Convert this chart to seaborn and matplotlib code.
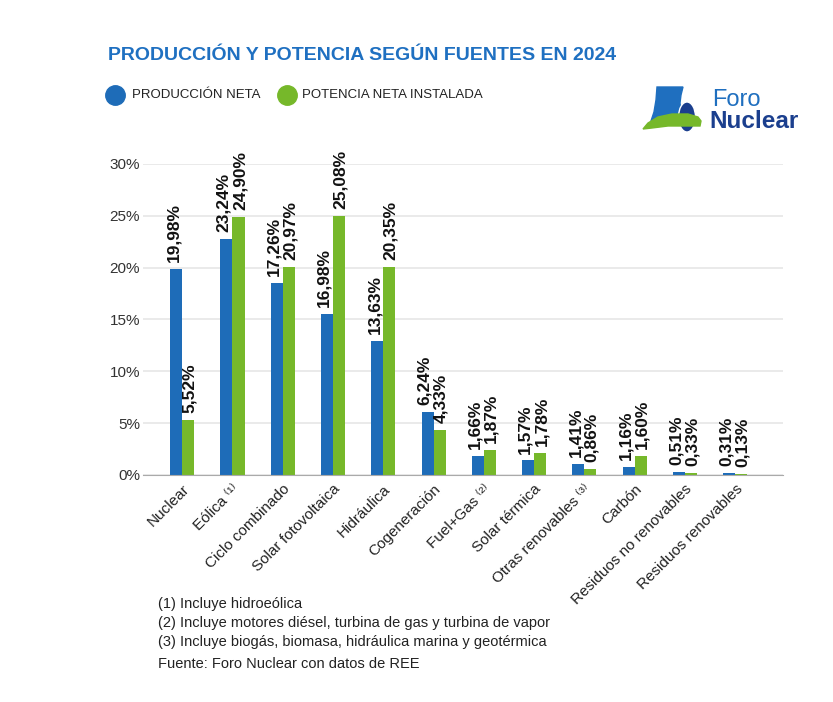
import numpy as np
import pandas as pd
import matplotlib
matplotlib.use("Agg")
import matplotlib.pyplot as plt
import seaborn as sns
from matplotlib.lines import Line2D
from matplotlib.patches import Polygon, Ellipse

# data
fuentes = ["Nuclear", "Eólica ⁽¹⁾", "Ciclo combinado", "Solar fotovoltaica", "Hidráulica",
           "Cogeneración", "Fuel+Gas ⁽²⁾", "Solar térmica", "Otras renovables ⁽³⁾", "Carbón",
           "Residuos no renovables", "Residuos renovables"]
produccion = [19.9, 22.75, 18.5, 15.5, 12.9, 6.1, 1.85, 1.4, 1.1, 0.8, 0.3, 0.2]
potencia = [5.3, 24.9, 20.1, 25.0, 20.1, 4.3, 2.4, 2.1, 0.6, 1.85, 0.2, 0.07]
etiq_produccion = ["19,98%", "23,24%", "17,26%", "16,98%", "13,63%", "6,24%",
                   "1,66%", "1,57%", "1,41%", "1,16%", "0,51%", "0,31%"]
etiq_potencia = ["5,52%", "24,90%", "20,97%", "25,08%", "20,35%", "4,33%",
                 "1,87%", "1,78%", "0,86%", "1,60%", "0,33%", "0,13%"]
series = ["PRODUCCIÓN NETA", "POTENCIA NETA INSTALADA"]
yticks = [0, 5, 10, 15, 20, 25, 30]

azul = "#1e6cb8"
verde = "#76b82a"
azul_titulo = "#1f70c1"
navy = "#1b3f8e"

sns.set_style("white")
plt.rcParams['font.family'] = ['Liberation Sans', 'DejaVu Sans']

df = pd.DataFrame({
    "fuente": fuentes * 2,
    "serie": [series[0]] * len(fuentes) + [series[1]] * len(fuentes),
    "valor": produccion + potencia,
})

W, H = 833, 702
fig = plt.figure(figsize=(W / 100, H / 100), dpi=100)
ax = fig.add_axes([143 / W, 1 - 475 / H, 640 / W, (475 - 164) / H])

sns.barplot(data=df, x="fuente", y="valor", hue="serie", palette=[azul, verde],
            width=0.48, gap=0, saturation=1, legend=False, linewidth=0, ax=ax)

ax.set_ylim(0, 30)
ax.set_xlim(-0.78, 11.95)
ax.set_yticks(yticks)
ax.set_yticklabels([f"{t}%" for t in yticks], fontsize=11, color="#333333")
ax.set_xlabel("")
ax.set_ylabel("")
ax.yaxis.grid(True, color="#e6e6e6", linewidth=1.2)
ax.set_axisbelow(True)
for s in ["top", "right", "left"]:
    ax.spines[s].set_visible(False)
ax.spines["bottom"].set_color("#aaaaaa")
ax.tick_params(axis="y", length=0, pad=2)
ax.tick_params(axis="x", length=0, pad=5)
ax.set_xticks(range(len(fuentes)))
ax.set_xticklabels(fuentes, rotation=45, ha="right", rotation_mode="anchor",
                   fontsize=11, color="#222222")

for cont, etiq, dx in zip(ax.containers, [etiq_produccion, etiq_potencia], [-2, 1]):
    for bar, t in zip(cont, etiq):
        ax.annotate(t, (bar.get_x() + bar.get_width() / 2, bar.get_height()),
                    xytext=(dx, 5), textcoords="offset points", rotation=90,
                    ha="center", va="bottom", fontsize=12.5, fontweight="bold",
                    color="#111111", annotation_clip=False)

# title and legend
fig.text(108 / W, 1 - 55 / H, "PRODUCCIÓN Y POTENCIA SEGÚN FUENTES EN 2024",
         fontsize=14, fontweight="bold", color=azul_titulo, va="center", ha="left")
for cx, tx, col, lab in [(115, 132, azul, series[0]), (287, 302, verde, series[1])]:
    fig.add_artist(Line2D([cx / W], [1 - 95 / H], marker="o", markersize=14,
                          color=col, linestyle="", transform=fig.transFigure))
    fig.text(tx / W, 1 - 95 / H, lab, fontsize=9.5, color="#222222",
             va="center", ha="left")

# footnotes
notas = ["(1) Incluye hidroeólica",
         "(2) Incluye motores diésel, turbina de gas y turbina de vapor",
         "(3) Incluye biogás, biomasa, hidráulica marina y geotérmica"]
for y, n in zip([604, 623, 642], notas):
    fig.text(158 / W, 1 - y / H, n, fontsize=10.5, color="#222222", va="center")
fig.text(158 / W, 1 - 664 / H, "Fuente: Foro Nuclear con datos de REE",
         fontsize=10.5, color="#222222", va="center")

# logo
lg = fig.add_axes([640 / W, 1 - 135 / H, 170 / W, 55 / H])
lg.set_xlim(640, 810)
lg.set_ylim(135, 80)
lg.axis("off")
torre = [(657, 87), (683, 87), (681, 95), (680, 103), (681, 112), (683, 120),
         (651, 121), (654, 112), (656, 100)]
lg.add_patch(Polygon(torre, closed=True, color="#1f6fbf"))
lg.add_patch(Ellipse((687, 117), 17, 30, facecolor=navy, edgecolor="white", linewidth=1))
suelo = [(643, 129), (648, 123), (658, 117), (672, 114), (688, 114), (698, 117),
         (701, 121), (700, 126), (688, 126), (668, 126), (652, 128)]
lg.add_patch(Polygon(suelo, closed=True, color=verde))
lg.text(712, 100, "Foro", fontsize=17, color="#1f6fbf", va="center", ha="left")
lg.text(709, 122, "Nuclear", fontsize=17.5, fontweight="bold", color=navy,
        va="center", ha="left")

fig.savefig("out.png", dpi=100, facecolor="white")
